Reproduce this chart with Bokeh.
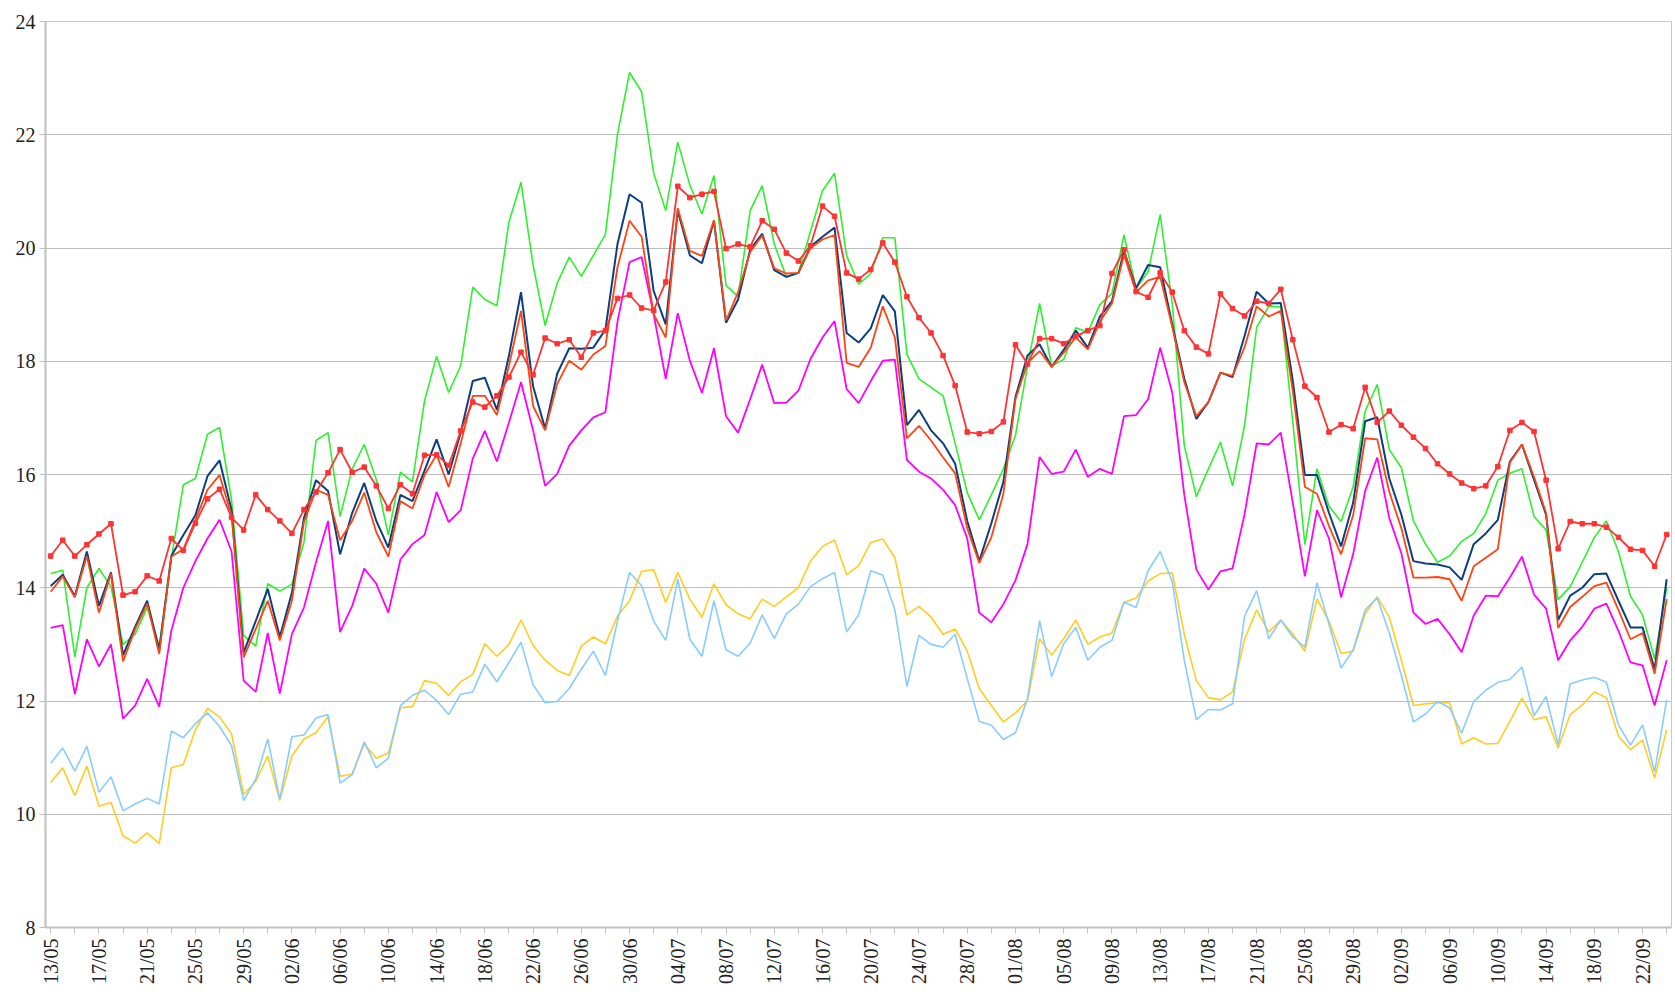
import datetime as dt
from math import pi
from bokeh.plotting import figure
from bokeh.models import FixedTicker, Range1d
from bokeh.embed import file_html
from bokeh.resources import INLINE

# ---- data (daily, 13/05 .. 24/09) ----
start = dt.date(2013, 5, 13)
n_days = 135
day_labels = [(start + dt.timedelta(days=i)).strftime("%d/%m") for i in range(n_days)]

red_marked = [14.56, 14.84, 14.56, 14.76, 14.95, 15.13, 13.87, 13.93, 14.21, 14.12, 14.87, 14.66, 15.14, 15.57, 15.74, 15.24, 15.02,
              15.64, 15.38, 15.18, 14.96, 15.38, 15.69, 16.03, 16.44, 16.04, 16.13, 15.8, 15.4, 15.82, 15.66, 16.34, 16.35, 16.16,
              16.77, 17.28, 17.19, 17.39, 17.72, 18.16, 17.76, 18.41, 18.31, 18.38, 18.07, 18.5, 18.54, 19.11, 19.17, 18.94, 18.9,
              19.4, 21.09, 20.89, 20.95, 21.0, 19.99, 20.07, 20.02, 20.48, 20.33, 19.91, 19.77, 20.04, 20.74, 20.56, 19.56,
              19.45, 19.62, 20.09, 19.75, 19.14, 18.77, 18.5, 18.1, 17.57, 16.75, 16.72, 16.76, 16.93, 18.29, 17.95, 18.4, 18.4,
              18.31, 18.44, 18.54, 18.63, 19.55, 19.97, 19.23, 19.13, 19.56, 19.22, 18.54, 18.25, 18.13, 19.19, 18.93, 18.8, 19.06,
              19.02, 19.27, 18.38, 17.56, 17.36, 16.75, 16.88, 16.81, 17.54, 16.92, 17.12, 16.87, 16.66, 16.46, 16.19, 16.01,
              15.85, 15.75, 15.8, 16.14, 16.78, 16.92, 16.76, 15.9, 14.69, 15.17, 15.13, 15.13, 15.07, 14.89, 14.68, 14.66, 14.38, 14.94]

dark_blue = [14.03, 14.23, 13.85, 14.64, 13.68, 14.27, 12.81, 13.31, 13.77, 12.90, 14.56, 14.93, 15.28, 15.97, 16.25, 15.37, 12.86,
             13.41, 13.98, 13.13, 13.91, 15.23, 15.9, 15.71, 14.59, 15.32, 15.85, 15.18, 14.71, 15.64, 15.53, 16.07, 16.62, 16.0,
             16.74, 17.65, 17.71, 17.14, 18.1, 19.22, 17.56, 16.81, 17.78, 18.23, 18.22, 18.24, 18.56, 20.07, 20.95, 20.8, 19.24,
             18.65, 20.66, 19.87, 19.73, 20.48, 18.68, 19.09, 19.97, 20.25, 19.61, 19.49, 19.56, 20.02, 20.2, 20.36, 18.5,
             18.33, 18.58, 19.17, 18.88, 16.87, 17.14, 16.78, 16.55, 16.19, 15.18, 14.47, 15.14, 15.87, 17.37, 18.1, 18.3, 17.9,
             18.2, 18.54, 18.24, 18.79, 19.06, 19.95, 19.29, 19.7, 19.66, 18.65, 17.69, 16.98, 17.28, 17.8, 17.72, 18.45, 19.23,
             19.02, 19.03, 17.65, 15.99, 15.99, 15.32, 14.73, 15.5, 16.94, 17.01, 15.93, 15.29, 14.47, 14.43, 14.41, 14.36,
             14.14, 14.77, 14.96, 15.2, 16.23, 16.53, 15.91, 15.29, 13.43, 13.86, 14.0, 14.24, 14.25, 13.77, 13.3, 13.3, 12.56, 14.15]

orange = [13.93, 14.2, 13.83, 14.56, 13.56, 14.25, 12.70, 13.27, 13.72, 12.83, 14.55, 14.68, 15.2, 15.73, 15.99, 15.28, 12.77,
          13.27, 13.77, 13.07, 13.77, 15.16, 15.73, 15.64, 14.84, 15.18, 15.68, 14.98, 14.55, 15.53, 15.4, 15.99, 16.35, 15.78,
          16.55, 17.39, 17.39, 17.05, 17.92, 18.89, 17.21, 16.78, 17.6, 18.01, 17.85, 18.12, 18.27, 19.66, 20.48, 20.2, 18.83,
          18.42, 20.7, 19.95, 19.86, 20.49, 18.72, 19.22, 19.93, 20.22, 19.64, 19.55, 19.56, 20.0, 20.15, 20.23, 17.97,
          17.9, 18.24, 18.97, 18.42, 16.64, 16.86, 16.6, 16.3, 16.02, 15.05, 14.44, 14.89, 15.66, 17.33, 17.97, 18.18, 17.9,
          18.15, 18.42, 18.21, 18.7, 19.02, 19.88, 19.22, 19.43, 19.49, 18.61, 17.63, 17.03, 17.28, 17.8, 17.74, 18.25, 18.97,
          18.79, 18.89, 17.47, 15.78, 15.66, 15.09, 14.59, 15.28, 16.64, 16.62, 15.69, 15.05, 14.18, 14.18, 14.19, 14.15,
          13.77, 14.38, 14.53, 14.68, 16.21, 16.53, 15.96, 15.32, 13.29, 13.66, 13.84, 14.03, 14.09, 13.61, 13.09, 13.2, 12.48, 13.8]

green = [14.25, 14.31, 12.78, 14.0, 14.34, 14.02, 13.0, 13.18, 13.65, 12.97, 14.5, 15.82, 15.93, 16.71, 16.83, 15.55, 13.16,
         12.97, 14.07, 13.94, 14.06, 14.8, 16.6, 16.74, 15.26, 16.1, 16.53, 15.91, 14.93, 16.04, 15.87, 17.3, 18.09, 17.45,
         17.92, 19.31, 19.09, 18.98, 20.46, 21.16, 19.7, 18.63, 19.38, 19.84, 19.5, 19.87, 20.24, 22.01, 23.1, 22.76, 21.32,
         20.66, 21.87, 21.11, 20.6, 21.28, 19.34, 19.14, 20.66, 21.1, 20.07, 19.49, 19.56, 20.29, 21.01, 21.32, 19.86,
         19.36, 19.55, 20.18, 20.18, 18.12, 17.69, 17.54, 17.39, 16.55, 15.68, 15.2, 15.64, 16.1, 16.69, 17.92, 19.02, 17.92,
         18.03, 18.59, 18.51, 19.0, 19.2, 20.23, 19.29, 19.58, 20.59, 19.02, 16.51, 15.61, 16.1, 16.57, 15.8, 16.87, 18.6,
         18.97, 18.96, 16.92, 14.76, 16.1, 15.44, 15.17, 15.78, 17.12, 17.59, 16.44, 16.12, 15.18, 14.77, 14.45, 14.56,
         14.82, 14.96, 15.31, 15.9, 16.02, 16.1, 15.26, 15.02, 13.79, 14.02, 14.45, 14.89, 15.18, 14.64, 13.85, 13.52, 12.74, 14.0]

magenta = [13.29, 13.34, 12.12, 13.09, 12.61, 13.0, 11.69, 11.92, 12.39, 11.9, 13.24, 14.0, 14.47, 14.87, 15.2, 14.64, 12.36,
           12.16, 13.2, 12.13, 13.18, 13.65, 14.45, 15.18, 13.22, 13.68, 14.34, 14.07, 13.56, 14.5, 14.77, 14.93, 15.69, 15.16,
           15.37, 16.28, 16.77, 16.23, 16.92, 17.63, 16.78, 15.8, 16.01, 16.51, 16.78, 17.01, 17.1, 18.7, 19.75, 19.84, 18.83,
           17.69, 18.85, 18.01, 17.44, 18.23, 17.03, 16.74, 17.33, 17.94, 17.26, 17.27, 17.48, 18.04, 18.42, 18.71, 17.51,
           17.26, 17.65, 18.01, 18.03, 16.26, 16.05, 15.93, 15.73, 15.46, 14.87, 13.56, 13.39, 13.71, 14.13, 14.77, 16.31, 16.01,
           16.05, 16.44, 15.96, 16.1, 16.01, 17.03, 17.05, 17.33, 18.24, 17.45, 15.64, 14.32, 13.97, 14.29, 14.34, 15.3, 16.55,
           16.53, 16.74, 15.5, 14.2, 15.37, 14.87, 13.83, 14.59, 15.71, 16.3, 15.23, 14.61, 13.56, 13.36, 13.45, 13.18,
           12.86, 13.51, 13.86, 13.85, 14.18, 14.55, 13.88, 13.63, 12.72, 13.07, 13.31, 13.63, 13.72, 13.24, 12.68, 12.63, 11.92, 12.72]

light_blue = [10.9, 11.17, 10.76, 11.2, 10.39, 10.66, 10.06, 10.18, 10.28, 10.18, 11.47, 11.35, 11.6, 11.79, 11.55, 11.21, 10.24,
              10.62, 11.33, 10.26, 11.37, 11.4, 11.7, 11.76, 10.55, 10.7, 11.28, 10.82, 10.99, 11.92, 12.1, 12.19, 12.01, 11.76,
              12.12, 12.16, 12.65, 12.34, 12.68, 13.04, 12.29, 11.97, 11.99, 12.22, 12.56, 12.88, 12.45, 13.41, 14.27, 14.04, 13.41,
              13.07, 14.15, 13.09, 12.79, 13.77, 12.9, 12.79, 13.02, 13.52, 13.1, 13.54, 13.71, 14.02, 14.16, 14.27, 13.22,
              13.52, 14.3, 14.22, 13.61, 12.26, 13.16, 13.0, 12.95, 13.18, 12.4, 11.64, 11.57, 11.32, 11.44, 12.04, 13.42, 12.43,
              13.01, 13.3, 12.72, 12.95, 13.07, 13.75, 13.65, 14.3, 14.64, 14.11, 12.72, 11.67, 11.85, 11.84, 11.95, 13.5, 13.95,
              13.1, 13.43, 13.13, 12.95, 14.09, 13.36, 12.58, 12.9, 13.61, 13.82, 13.2, 12.45, 11.63, 11.77, 11.99, 11.88,
              11.43, 11.99, 12.19, 12.33, 12.38, 12.6, 11.74, 12.08, 11.23, 12.3, 12.37, 12.42, 12.33, 11.58, 11.22, 11.58, 10.75, 12.02]

yellow = [10.56, 10.82, 10.33, 10.85, 10.14, 10.21, 9.62, 9.49, 9.67, 9.48, 10.82, 10.88, 11.49, 11.87, 11.72, 11.42, 10.35,
          10.58, 11.03, 10.24, 11.03, 11.33, 11.44, 11.72, 10.67, 10.71, 11.24, 10.99, 11.08, 11.88, 11.9, 12.36, 12.31, 12.1,
          12.34, 12.47, 13.01, 12.79, 13.0, 13.43, 12.98, 12.72, 12.54, 12.45, 12.97, 13.13, 13.01, 13.5, 13.77, 14.29, 14.32,
          13.74, 14.27, 13.8, 13.48, 14.07, 13.7, 13.54, 13.45, 13.8, 13.67, 13.84, 14.0, 14.47, 14.73, 14.84, 14.23,
          14.39, 14.8, 14.86, 14.53, 13.52, 13.67, 13.48, 13.18, 13.27, 12.88, 12.22, 11.92, 11.63, 11.79, 12.01, 13.1, 12.81,
          13.1, 13.43, 13.0, 13.13, 13.2, 13.74, 13.82, 14.12, 14.25, 14.26, 13.18, 12.36, 12.06, 12.02, 12.16, 13.09, 13.61,
          13.22, 13.43, 13.18, 12.88, 13.8, 13.41, 12.84, 12.88, 13.54, 13.84, 13.48, 12.72, 11.92, 11.95, 11.97, 11.97,
          11.24, 11.35, 11.24, 11.25, 11.64, 12.05, 11.67, 11.72, 11.17, 11.76, 11.93, 12.16, 12.06, 11.38, 11.14, 11.31, 10.64, 11.49]

y_ticks = [8, 10, 12, 14, 16, 18, 20, 22, 24]

x = list(range(n_days))
FONT = "Liberation Sans Narrow"

p = figure(output_backend="svg", toolbar_location=None,
           frame_width=1626, frame_height=906,
           x_range=Range1d(-0.43, 134.4), y_range=Range1d(8, 24),
           min_border_left=45, min_border_right=3, min_border_top=21, min_border_bottom=8)
p.outline_line_color = "#c8c8c8"
p.outline_line_width = 1
p.background_fill_color = "white"
p.border_fill_color = "white"

# grid
p.xgrid.grid_line_color = None
p.ygrid.grid_line_color = "#bdbdbd"
p.ygrid.grid_line_width = 1
p.ygrid.ticker = FixedTicker(ticks=y_ticks)

# y axis
p.yaxis.ticker = FixedTicker(ticks=y_ticks)
p.yaxis.axis_line_color = "#c0c0c0"
p.yaxis.axis_line_width = 2
p.yaxis.major_tick_line_color = "#c0c0c0"
p.yaxis.major_tick_out = 6
p.yaxis.major_tick_in = 0
p.yaxis.minor_tick_line_color = None
p.yaxis.major_label_text_font = FONT
p.yaxis.major_label_text_font_size = "20px"
p.yaxis.major_label_text_color = "#222222"
p.yaxis.major_label_standoff = 4

# x axis: ticks every 2 days, labels every 4 days
label_ticks = list(range(0, n_days, 4))
minor = [i for i in range(0, n_days, 2) if i % 4 != 0]
p.xaxis.ticker = FixedTicker(ticks=label_ticks, minor_ticks=minor)
p.xaxis.major_label_overrides = {i: day_labels[i] for i in label_ticks}
p.xaxis.major_label_orientation = pi / 2
p.xaxis.axis_line_color = "#c0c0c0"
p.xaxis.axis_line_width = 2
p.xaxis.major_tick_line_color = "#c0c0c0"
p.xaxis.minor_tick_line_color = "#c0c0c0"
p.xaxis.major_tick_out = 6
p.xaxis.major_tick_in = 0
p.xaxis.minor_tick_out = 6
p.xaxis.minor_tick_in = 0
p.xaxis.major_label_text_font = FONT
p.xaxis.major_label_text_font_size = "20px"
p.xaxis.major_label_text_color = "#222222"
p.xaxis.major_label_standoff = 5

series = [
    (yellow, "#ffcc22", 1.6),
    (light_blue, "#88ccff", 1.6),
    (magenta, "#ff00ff", 1.8),
    (green, "#2ef02e", 1.6),
    (dark_blue, "#0b3f80", 2.0),
    (orange, "#ff4411", 1.8),
]
for ys, col, w in series:
    p.line(x, ys, line_color=col, line_width=w)

p.line(x, red_marked, line_color="#ff3333", line_width=1.8)
p.scatter(x, red_marked, marker="square", size=4.5, fill_color="#ff3333", line_color="#ff3333")

open("out.html", "w").write(file_html(p, INLINE))
